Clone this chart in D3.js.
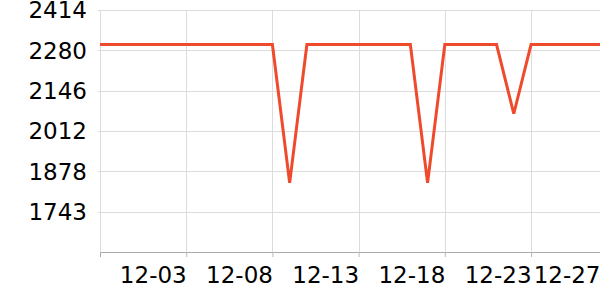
<!DOCTYPE html>
<html>
<head>
<meta charset="utf-8">
<script src="https://cdn.jsdelivr.net/npm/d3@7"></script>
<style>
body { margin: 0; background: #fff; }
svg { display: block; font-family: "DejaVu Sans", sans-serif; }
</style>
</head>
<body>
<svg id="chart" width="600" height="300"></svg>
<script>
// daily values, 11-28 .. 12-27
var dates = ['2023-11-28','2023-11-29','2023-11-30','2023-12-01','2023-12-02','2023-12-03',
             '2023-12-04','2023-12-05','2023-12-06','2023-12-07','2023-12-08','2023-12-09',
             '2023-12-10','2023-12-11','2023-12-12','2023-12-13','2023-12-14','2023-12-15',
             '2023-12-16','2023-12-17','2023-12-18','2023-12-19','2023-12-20','2023-12-21',
             '2023-12-22','2023-12-23','2023-12-24','2023-12-25','2023-12-26','2023-12-27'];
var values = [2299,2299,2299,2299,2299,2299,
              2299,2299,2299,2299,2299,1839,
              2299,2299,2299,2299,2299,2299,
              2299,1839,2299,2299,2299,2299,
              2069,2299,2299,2299,2299,2299];
var yTicks = [1743.4, 1877.5, 2011.6, 2145.7, 2279.8, 2413.95];
var yTickLabels = ['1743','1878','2012','2146','2280','2414'];
var xTicks = ['2023-12-03','2023-12-08','2023-12-13','2023-12-18','2023-12-23','2023-12-27'];
var xTickLabels = ['12-03','12-08','12-13','12-18','12-23','12-27'];

var parse = d3.timeParse('%Y-%m-%d');
var svg = d3.select('#chart');
var plotLeft = 100, plotRight = 600, plotTop = 10, plotBottom = 252;

var x = d3.scaleTime()
    .domain([parse(dates[0]), parse(dates[dates.length - 1])])
    .range([plotLeft, plotRight]);
var y = d3.scaleLinear()
    .domain([1609.3, 2413.95])
    .range([plotBottom, plotTop]);

// horizontal grid
svg.append('g')
    .selectAll('line')
    .data(yTicks)
    .enter().append('line')
    .attr('x1', plotLeft - 2).attr('x2', plotRight)
    .attr('y1', function(d) { return Math.round(y(d)) + 0.5; })
    .attr('y2', function(d) { return Math.round(y(d)) + 0.5; })
    .attr('stroke', '#dcdcdc').attr('stroke-width', 1);

// vertical grid
svg.append('g')
    .selectAll('line')
    .data(xTicks.slice(0, 5))
    .enter().append('line')
    .attr('x1', function(d) { return Math.round(x(parse(d))) + 0.5; })
    .attr('x2', function(d) { return Math.round(x(parse(d))) + 0.5; })
    .attr('y1', plotTop).attr('y2', plotBottom)
    .attr('stroke', '#dcdcdc').attr('stroke-width', 1);

// left edge line
svg.append('line')
    .attr('x1', plotLeft + 0.5).attr('x2', plotLeft + 0.5)
    .attr('y1', plotTop).attr('y2', plotBottom)
    .attr('stroke', '#dcdcdc');

// y labels
svg.append('g')
    .selectAll('text')
    .data(yTicks)
    .enter().append('text')
    .attr('x', 87)
    .attr('y', function(d) { return y(d); })
    .attr('dy', '0.36em')
    .attr('text-anchor', 'end')
    .attr('font-size', '23px')
    .attr('fill', '#000')
    .text(function(d, i) { return yTickLabels[i]; });

// x axis
var xAxis = d3.axisBottom(x)
    .tickValues(xTicks.map(parse))
    .tickSize(5)
    .tickFormat(function(d, i) { return xTickLabels[i]; });

var gx = svg.append('g')
    .attr('transform', 'translate(0,' + plotBottom + ')')
    .call(xAxis);
gx.select('.domain').attr('stroke', '#aaa').attr('d', 'M' + (plotLeft + 0.5) + ',5V0.5H' + plotRight);
gx.selectAll('.tick line').attr('stroke', '#bbb');
gx.selectAll('.tick text')
    .attr('font-size', '23px')
    .attr('font-family', '"DejaVu Sans", sans-serif')
    .attr('fill', '#000')
    .attr('text-anchor', 'end')
    .attr('y', 31)
    .attr('dy', 0);

// line
var line = d3.line()
    .x(function(d, i) { return x(parse(dates[i])); })
    .y(function(d) { return y(d); });

svg.append('path')
    .datum(values)
    .attr('d', line)
    .attr('fill', 'none')
    .attr('stroke', '#ef4a2b')
    .attr('stroke-width', 3)
    .attr('stroke-linejoin', 'miter');
</script>
</body>
</html>
